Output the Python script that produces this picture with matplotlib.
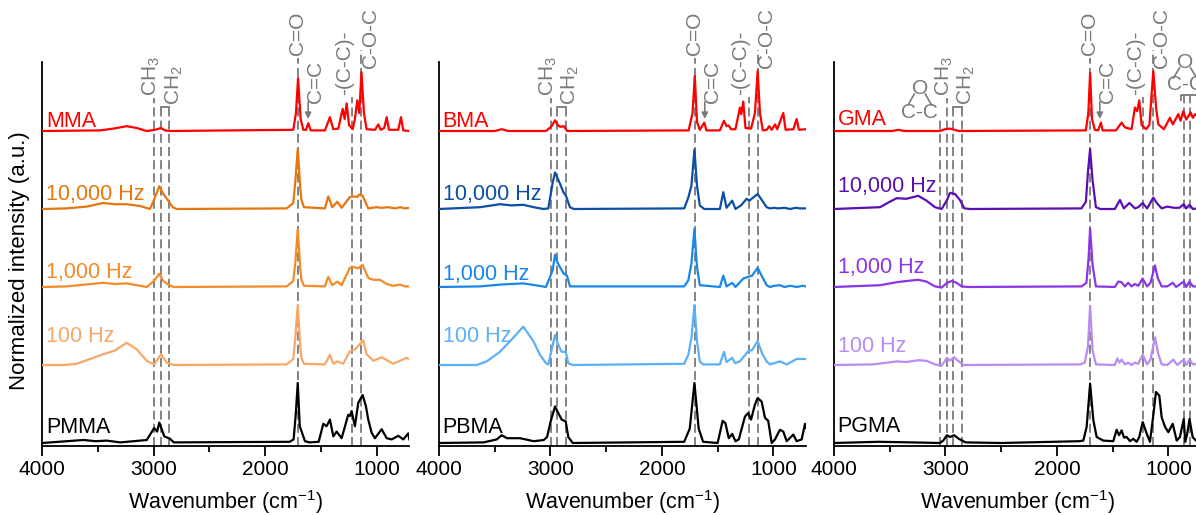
import numpy as np
import matplotlib
matplotlib.use("Agg")
import matplotlib.pyplot as plt
from matplotlib import transforms
from matplotlib.ticker import MultipleLocator

plt.rcParams['font.family'] = ['Liberation Sans', 'DejaVu Sans']
plt.rcParams['mathtext.fontset'] = 'custom'
plt.rcParams['mathtext.rm'] = 'Liberation Sans'
plt.rcParams['mathtext.it'] = 'Liberation Sans:italic'
plt.rcParams['mathtext.bf'] = 'Liberation Sans:bold'

# ---------------- FTIR spectra: (wavenumber / cm-1, normalized intensity) ----------------
# Methyl methacrylate series
MMA = [(4000, 0), (3482, 0.01), (3363, 0.04), (3243, 0.08), (3153, 0.05), (3063, 0.0), (2989, 0.02),
       (2935, 0.05), (2899, 0.01), (2854, 0), (1748, 0.02), (1724, 0.3), (1705, 0.88), (1682, 0.2),
       (1658, 0.02), (1634, 0.02), (1613, 0.13), (1592, 0.01), (1464, 0.01), (1419, 0.23), (1389, 0.03),
       (1344, 0.04), (1305, 0.37), (1287, 0.2), (1269, 0.46), (1248, 0.1), (1215, 0.03), (1195, 0.2),
       (1174, 0.51), (1156, 0.3), (1136, 0.98), (1114, 0.3), (1090, 0.03), (1015, 0.02), (985, 0.11),
       (964, 0.02), (932, 0.05), (910, 0.23), (889, 0.02), (806, 0.02), (782, 0.23), (761, 0.01), (707, 0.0)]
MMA_10000 = [(4000, 0), (3781, 0.01), (3602, 0.04), (3453, 0.1), (3348, 0.08), (3243, 0.08), (3123, 0.05),
             (3034, 0.0), (2998, 0.15), (2950, 0.38), (2914, 0.25), (2870, 0.14), (2830, 0.03), (2794, 0.0),
             (1807, 0.01), (1748, 0.1), (1730, 0.45), (1708, 1.0), (1685, 0.35), (1675, 0.15), (1652, 0.03),
             (1464, 0.01), (1434, 0.21), (1398, 0.03), (1353, 0.12), (1314, 0.02), (1240, 0.2), (1195, 0.21),
             (1174, 0.2), (1156, 0.24), (1126, 0.22), (1075, 0.01), (1000, 0.03), (955, 0.02), (896, 0.03),
             (836, 0.01), (790, 0.03), (746, 0.01), (707, 0.02)]
MMA_1000 = [(4000, 0), (3781, 0.01), (3453, 0.07), (3348, 0.05), (3243, 0.06), (3063, 0.0), (2998, 0.1),
            (2950, 0.22), (2914, 0.1), (2870, 0.04), (2824, 0.0), (1807, 0.01), (1748, 0.1), (1730, 0.4),
            (1708, 0.96), (1685, 0.3), (1675, 0.12), (1652, 0.02), (1464, 0.01), (1434, 0.17), (1398, 0.03),
            (1353, 0.09), (1314, 0.03), (1240, 0.32), (1195, 0.33), (1165, 0.31), (1126, 0.37), (1075, 0.15),
            (1030, 0.12), (970, 0.12), (910, 0.05), (851, 0.02), (790, 0.04), (746, 0.01), (707, 0.01)]
MMA_100 = [(4000, 0), (3800, 0.0), (3691, 0.02), (3571, 0.1), (3453, 0.18), (3350, 0.24), (3243, 0.37),
           (3153, 0.26), (3063, 0.07), (2996, 0.01), (2935, 0.18), (2884, 0.04), (2825, 0.0), (1807, 0.01),
           (1748, 0.1), (1730, 0.45), (1708, 1.0), (1685, 0.3), (1675, 0.12), (1652, 0.02), (1464, 0.01),
           (1419, 0.17), (1389, 0.02), (1353, 0.06), (1300, 0.02), (1240, 0.23), (1195, 0.26), (1165, 0.32),
           (1120, 0.41), (1090, 0.18), (1030, 0.07), (955, 0.13), (851, 0.02), (731, 0.12), (707, 0.09)]
PMMA = [(4000, 0), (3632, 0.05), (3520, 0.03), (3422, 0.04), (3300, 0.01), (3063, 0.05), (2996, 0.25),
        (2970, 0.19), (2950, 0.34), (2905, 0.11), (2854, 0.07), (2820, 0.01), (1780, 0.02), (1745, 0.06),
        (1725, 0.5), (1708, 1.0), (1690, 0.28), (1643, 0.03), (1600, 0.01), (1520, 0.02), (1479, 0.32),
        (1449, 0.28), (1419, 0.39), (1389, 0.11), (1359, 0.19), (1314, 0.08), (1255, 0.47), (1240, 0.45),
        (1225, 0.53), (1195, 0.28), (1165, 0.67), (1126, 0.8), (1096, 0.61), (1075, 0.39), (1045, 0.17),
        (1015, 0.08), (955, 0.23), (910, 0.08), (865, 0.06), (806, 0.12), (761, 0.06), (716, 0.16), (707, 0.06)]

# Butyl methacrylate series
BMA = [(4000, 0), (3500, 0.0), (3437, 0.03), (3380, 0.0), (3040, 0.0), (2989, 0.08), (2959, 0.18),
       (2935, 0.1), (2914, 0.07), (2879, 0.08), (2850, 0.0), (1760, 0.01), (1725, 0.3), (1705, 0.92),
       (1685, 0.15), (1660, 0.02), (1620, 0.14), (1600, 0.01), (1480, 0.01), (1443, 0.17), (1420, 0.08),
       (1400, 0.09), (1380, 0.03), (1340, 0.03), (1300, 0.39), (1288, 0.28), (1270, 0.49), (1250, 0.05),
       (1200, 0.04), (1165, 0.3), (1141, 1.0), (1120, 0.3), (1095, 0.01), (1060, 0.02), (1037, 0.08),
       (1015, 0.02), (985, 0.11), (965, 0.03), (911, 0.3), (890, 0.02), (820, 0.03), (791, 0.2),
       (770, 0.02), (707, 0.03)]
BMA_10000 = [(4000, 0), (3632, 0.03), (3453, 0.08), (3350, 0.06), (3244, 0.07), (3150, 0.03), (3064, 0.0),
             (3019, 0.01), (2980, 0.44), (2959, 0.61), (2940, 0.53), (2914, 0.42), (2884, 0.28), (2861, 0.22),
             (2825, 0.03), (2790, 0.0), (1800, 0.01), (1763, 0.19), (1735, 0.39), (1708, 0.99), (1685, 0.39),
             (1660, 0.06), (1620, 0.0), (1480, 0.0), (1449, 0.28), (1420, 0.02), (1369, 0.14), (1340, 0.0),
             (1290, 0.06), (1240, 0.17), (1215, 0.14), (1141, 0.25), (1100, 0.14), (1060, 0.03), (1030, 0.01),
             (990, 0.02), (960, 0.01), (900, 0.02), (850, 0.0), (800, 0.02), (760, 0.01), (707, 0.01)]
BMA_1000 = [(4000, 0), (3632, 0.01), (3453, 0.04), (3244, 0.06), (3100, 0.02), (3040, 0.0), (2980, 0.28),
            (2959, 0.54), (2940, 0.42), (2914, 0.33), (2884, 0.23), (2852, 0.19), (2825, 0.01), (1800, 0.01),
            (1763, 0.11), (1735, 0.39), (1708, 0.97), (1685, 0.33), (1660, 0.03), (1480, 0.0), (1449, 0.19),
            (1420, 0.01), (1369, 0.07), (1340, 0.0), (1270, 0.14), (1225, 0.17), (1190, 0.19), (1141, 0.32),
            (1100, 0.17), (1060, 0.03), (1030, 0.0), (990, 0.02), (941, 0.03), (900, 0.0), (850, 0.02),
            (790, 0.0), (740, 0.02), (707, 0.01)]
BMA_100 = [(4000, 0), (3662, 0.0), (3572, 0.06), (3453, 0.22), (3350, 0.42), (3244, 0.64), (3154, 0.4),
           (3094, 0.17), (3040, 0.03), (3019, 0.01), (2980, 0.33), (2959, 0.5), (2935, 0.36), (2900, 0.22),
           (2863, 0.22), (2840, 0.03), (2800, 0.0), (1800, 0.02), (1763, 0.17), (1735, 0.45), (1708, 1.0),
           (1685, 0.4), (1660, 0.06), (1630, 0.01), (1480, 0.01), (1443, 0.22), (1420, 0.05), (1369, 0.12),
           (1345, 0.03), (1300, 0.06), (1225, 0.23), (1190, 0.25), (1141, 0.4), (1100, 0.19), (1060, 0.06),
           (1030, 0.01), (941, 0.06), (880, 0.01), (791, 0.1), (740, 0.1), (707, 0.1)]
PBMA = [(4000, 0), (3600, 0.01), (3482, 0.06), (3437, 0.13), (3390, 0.08), (3273, 0.08), (3150, 0.03),
        (3060, 0.05), (3030, 0.1), (2998, 0.36), (2959, 0.61), (2930, 0.5), (2899, 0.39), (2863, 0.36),
        (2840, 0.1), (2800, 0.0), (1800, 0.02), (1750, 0.24), (1708, 1.0), (1670, 0.24), (1630, 0.02),
        (1500, 0.0), (1455, 0.37), (1430, 0.33), (1400, 0.08), (1369, 0.15), (1340, 0.03), (1310, 0.06),
        (1255, 0.44), (1225, 0.5), (1200, 0.39), (1165, 0.64), (1141, 0.75), (1105, 0.69), (1075, 0.42),
        (1046, 0.37), (1015, 0.0), (985, 0.06), (941, 0.22), (911, 0.19), (880, 0.03), (821, 0.14),
        (791, 0.03), (746, 0.06), (716, 0.32), (707, 0.25)]

# Glycidyl methacrylate series
GMA = [(4000, 0), (3480, 0.0), (3423, 0.02), (3370, 0.0), (3050, 0.0), (3004, 0.03), (2959, 0.04),
       (2920, 0.02), (2880, 0.0), (1740, 0.01), (1718, 0.3), (1702, 0.97), (1685, 0.2), (1660, 0.02),
       (1630, 0.01), (1605, 0.14), (1590, 0.01), (1470, 0.01), (1419, 0.14), (1390, 0.06), (1350, 0.04),
       (1330, 0.03), (1300, 0.39), (1280, 0.33), (1261, 0.51), (1240, 0.1), (1200, 0.03), (1170, 0.1),
       (1135, 1.0), (1110, 0.39), (1090, 0.11), (1040, 0.03), (986, 0.22), (960, 0.11), (911, 0.28),
       (890, 0.17), (866, 0.33), (840, 0.19), (800, 0.31), (780, 0.22), (759, 0.28), (707, 0.2)]
GMA_10000 = [(4000, 0), (3587, 0.03), (3500, 0.12), (3437, 0.18), (3350, 0.17), (3244, 0.22), (3170, 0.14),
             (3094, 0.03), (3034, 0.0), (2986, 0.15), (2959, 0.27), (2914, 0.25), (2870, 0.15), (2830, 0.01),
             (2780, 0.0), (1780, 0.01), (1740, 0.12), (1720, 0.65), (1702, 1.0), (1680, 0.48), (1650, 0.03),
             (1610, 0.0), (1480, 0.0), (1434, 0.15), (1400, 0.01), (1349, 0.1), (1300, 0.01), (1270, 0.03),
             (1231, 0.1), (1190, 0.01), (1135, 0.19), (1100, 0.09), (1060, 0.01), (1010, 0.04), (950, 0.02),
             (900, 0.02), (862, 0.08), (840, 0.01), (810, 0.07), (780, 0.0), (740, 0.01), (707, 0.01)]
GMA_1000 = [(4000, 0), (3587, 0.03), (3437, 0.08), (3350, 0.1), (3244, 0.12), (3170, 0.09), (3094, 0.01),
            (3034, -0.01), (2986, 0.07), (2944, 0.1), (2900, 0.07), (2855, 0.01), (2800, 0.0), (1780, 0.01),
            (1735, 0.07), (1716, 0.48), (1702, 0.97), (1680, 0.37), (1650, 0.01), (1480, 0.0), (1450, 0.09),
            (1420, 0.08), (1390, 0.01), (1360, 0.07), (1330, 0.01), (1300, 0.05), (1270, 0.02), (1231, 0.14),
            (1190, 0.01), (1160, 0.07), (1120, 0.36), (1095, 0.15), (1060, 0.01), (1010, 0.01), (961, 0.07),
            (930, 0.0), (862, 0.09), (840, 0.0), (810, 0.09), (780, 0.01), (740, 0.01), (707, 0.03)]
GMA_100 = [(4000, 0), (3650, 0.01), (3437, 0.06), (3350, 0.05), (3244, 0.08), (3170, 0.07), (3094, 0.01),
           (3034, -0.01), (2986, 0.12), (2960, 0.07), (2923, 0.13), (2880, 0.06), (2840, 0.0), (1790, 0.01),
           (1750, 0.04), (1722, 0.3), (1702, 0.98), (1680, 0.25), (1650, 0.01), (1480, 0.0), (1458, 0.11),
           (1440, 0.04), (1419, 0.09), (1390, 0.01), (1360, 0.04), (1330, 0.0), (1300, 0.04), (1270, 0.02),
           (1231, 0.17), (1190, 0.01), (1160, 0.09), (1120, 0.46), (1090, 0.18), (1060, 0.01), (1010, 0.0),
           (955, 0.09), (920, 0.0), (862, 0.09), (840, 0.0), (810, 0.09), (780, 0.01), (740, 0.02), (707, 0.02)]
PGMA = [(4000, 0), (3600, 0.02), (3300, 0.01), (3050, 0.0), (3020, 0.04), (2986, 0.13), (2960, 0.1),
        (2923, 0.13), (2880, 0.07), (2820, 0.01), (2500, 0.0), (1800, 0.03), (1763, 0.04), (1733, 0.27),
        (1702, 0.99), (1673, 0.38), (1643, 0.1), (1584, 0.04), (1494, 0.03), (1464, 0.22), (1443, 0.13),
        (1419, 0.21), (1398, 0.09), (1374, 0.1), (1344, 0.03), (1315, 0.07), (1284, 0.02), (1261, 0.1),
        (1230, 0.35), (1195, 0.16), (1165, 0.02), (1135, 0.46), (1111, 0.85), (1081, 0.79), (1060, 0.43),
        (1030, 0.27), (1000, 0.18), (961, 0.32), (925, 0.04), (896, 0.1), (862, 0.4), (848, 0.02),
        (830, 0.16), (810, 0.4), (782, 0.1), (752, 0.04), (707, 0.02)]

TRACE_NAMES = [["MMA", "10,000 Hz", "1,000 Hz", "100 Hz", "PMMA"],
               ["BMA", "10,000 Hz", "1,000 Hz", "100 Hz", "PBMA"],
               ["GMA", "10,000 Hz", "1,000 Hz", "100 Hz", "PGMA"]]
SPECTRA = [[MMA, MMA_10000, MMA_1000, MMA_100, PMMA],
           [BMA, BMA_10000, BMA_1000, BMA_100, PBMA],
           [GMA, GMA_10000, GMA_1000, GMA_100, PGMA]]
OFFSETS = [5.2, 3.9, 2.6, 1.3, 0.0]

# band assignments (cm-1) marked by dashed lines
BAND_CH3 = [2996, 2998, 2988]
BAND_CH2 = [(2938, 2860), (2944, 2863), (2930, 2855)]
BAND_CO = [1707, 1706, 1703]
BAND_CC = [1225, 1222, 1225]
BAND_COC = [1136, 1141, 1135]
BAND_EPOXY_CH = 3049
BAND_EPOXY_RING = (862, 810)

# ---------------- styling ----------------
COLORS = [["#ff0000", "#e8760f", "#f38b28", "#f8a866", "#000000"],
          ["#ff0000", "#0d4ea6", "#1a86e8", "#5cb0f8", "#000000"],
          ["#ff0000", "#5a10b0", "#8a35e8", "#b98cf2", "#000000"]]
LABEL_Y = [[0.831, 0.641, 0.437, 0.272, 0.034],
           [0.832, 0.641, 0.432, 0.272, 0.034],
           [0.836, 0.662, 0.451, 0.246, 0.037]]
GRAY = "#7a7a7a"
DASH = (0, (5, 2.3))
ANN_SIZE = 15

W, H = 1196, 515
fig = plt.figure(figsize=(W / 100, H / 100), dpi=100)
lefts_px = [42.3, 439.0, 834.0]


def px2frac(y_px):
    return (446 - y_px) / 384.0


def draw_epoxide(ax, tr, x, y_o, y_c):
    """Three-membered epoxide ring: O on top, C-C below, joined by two bonds."""
    ax.text(x, px2frac(y_o), "O", transform=tr, ha='center', va='center', color=GRAY,
            fontsize=ANN_SIZE, clip_on=False)
    ax.text(x, px2frac(y_c), "C-C", transform=tr, ha='center', va='center', color=GRAY,
            fontsize=ANN_SIZE, clip_on=False)
    y1, y2 = px2frac(y_o + 6), px2frac(y_c - 7)
    ax.plot([x + 50, x + 105], [y1, y2], transform=tr, color=GRAY, lw=1.2, clip_on=False)
    ax.plot([x - 50, x - 105], [y1, y2], transform=tr, color=GRAY, lw=1.2, clip_on=False)


for i, lx in enumerate(lefts_px):
    ax = fig.add_axes([lx / W, (H - 446) / H, 367 / W, 384 / H])
    ax.set_xlim(4000, 707)
    ax.set_ylim(-0.05, 6.35)

    for spec, off, col, name, ly in zip(SPECTRA[i], OFFSETS, COLORS[i], TRACE_NAMES[i], LABEL_Y[i]):
        arr = np.array(spec, dtype=float)
        ax.plot(arr[:, 0], arr[:, 1] + off, color=col, lw=1.6, zorder=3,
                solid_joinstyle='round')
        ax.text(0.01, ly, name, transform=ax.transAxes, color=col, fontsize=15.5,
                ha='left', va='baseline')

    tr = transforms.blended_transform_factory(ax.transData, ax.transAxes)

    def vline(x, top):
        ax.plot([x, x], [0, top], transform=tr, color=GRAY, lw=1.3, ls=DASH,
                clip_on=False, zorder=1)

    def vlabel(x, y, s):
        ax.text(x, y, s, transform=tr, rotation=90, ha='center', va='bottom',
                color=GRAY, fontsize=ANN_SIZE, clip_on=False)

    # C-H stretching
    vline(BAND_CH3[i], px2frac(98))
    vlabel(BAND_CH3[i] + 25, px2frac(96), "CH$_3$")
    a, b = BAND_CH2[i]
    top = px2frac(107)
    vline(a, top)
    vline(b, top)
    ax.plot([a, b], [top, top], transform=tr, color=GRAY, lw=1.3, clip_on=False)
    vlabel(b - 45, px2frac(105), "CH$_2$")

    # carbonyl
    vline(BAND_CO[i], px2frac(58))
    vlabel(BAND_CO[i], px2frac(55), "C=O")

    # vinyl C=C with arrow
    ax.annotate("", xy=(1615, px2frac(119)), xytext=(1615, px2frac(102)),
                xycoords=tr, textcoords=tr,
                arrowprops=dict(arrowstyle='-|>', color=GRAY, lw=1.2, mutation_scale=9,
                                shrinkA=0, shrinkB=0))
    vlabel(1550, px2frac(103), "C=C")

    # backbone and ester bands
    vline(BAND_CC[i], px2frac(97))
    vlabel(1290, px2frac(95), "-(C-C)-")
    vline(BAND_COC[i], px2frac(50))
    vlabel(1058, px2frac(68), "C-O-C")

    if i == 2:
        vline(BAND_EPOXY_CH, px2frac(118))
        draw_epoxide(ax, tr, 3230, 88, 112)
        ra, rb = BAND_EPOXY_RING
        btop = px2frac(95)
        vline(ra, btop)
        vline(rb, btop)
        ax.plot([ra + 25, ra + 25, 600], [px2frac(100), btop, btop], transform=tr,
                color=GRAY, lw=1.3, clip_on=False)
        draw_epoxide(ax, tr, 850, 62, 85)

    for s in ['top', 'right']:
        ax.spines[s].set_visible(False)
    for s in ['left', 'bottom']:
        ax.spines[s].set_linewidth(1.3)
    ax.set_yticks([])
    ax.xaxis.set_major_locator(MultipleLocator(1000))
    ax.xaxis.set_minor_locator(MultipleLocator(500))
    ax.tick_params(axis='x', which='major', direction='out', length=7, width=1.3,
                   labelsize=15, pad=3)
    ax.tick_params(axis='x', which='minor', direction='out', length=4, width=1.3)
    ax.text(0.5, px2frac(502), "Wavenumber (cm$^{-1}$)", transform=ax.transAxes,
            ha='center', va='center', fontsize=15.5)

fig.text(20 / W, 1 - 261 / H, "Normalized intensity (a.u.)", rotation=90,
         ha='center', va='center', fontsize=16)

fig.savefig("out.png", dpi=100)
